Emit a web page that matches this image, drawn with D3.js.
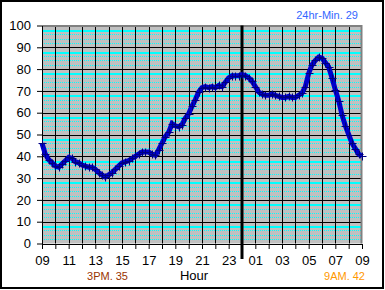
<!DOCTYPE html>
<html>
<head>
<meta charset="utf-8">
<script src="https://cdn.jsdelivr.net/npm/d3@7"></script>
<style>
  body { margin: 0; background: #fff; }
  svg { display: block; font-family: "Liberation Sans", Arial, sans-serif; }
</style>
</head>
<body>
<svg id="chart" width="385" height="290"></svg>
<script>
// readings every 15 minutes, starting 09:00
const values = [
  46, 41, 38.5, 37, 35.5, 35, 36.5, 38, 39.5, 39, 37.5, 37, 36, 35.5, 35, 35,
  34, 32.5, 31.5, 30.5, 31.5, 32.5, 34, 35.5, 37, 37.5, 38, 39, 40, 41, 42, 42,
  42, 41, 40.5, 43, 46, 49, 51, 55, 54, 53.5, 54.5, 57.5, 59.5, 63, 66, 69.5,
  71.5, 72, 71.5, 72, 71.5, 72.5, 72, 74, 76, 77, 77, 77, 77.5, 77, 76, 74.5,
  72, 69.5, 68.5, 68, 68, 68.5, 68, 67.5, 67, 67, 67.5, 67, 67, 68, 69, 72,
  78, 82, 84, 85.5, 85, 83, 81, 76, 70.5, 65.5, 59, 54, 50, 46, 43.5, 41, 40
];
const stepHours = 0.25;
const tickLabels = ["09", "11", "13", "15", "17", "19", "21", "23", "01", "03", "05", "07", "09"];
const yTicks = [0, 10, 20, 30, 40, 50, 60, 70, 80, 90, 100];
const midnightHour = 15;
const notes = { min: "24hr-Min. 29", left: "3PM. 35", right: "9AM. 42" };

const svg = d3.select("#chart");

// outer frame
svg.append("rect")
  .attr("x", 1).attr("y", 1).attr("width", 382).attr("height", 287)
  .attr("fill", "#fff").attr("stroke", "#000").attr("stroke-width", 2);

const x = d3.scaleLinear().domain([0, 24]).range([42, 362]);
const y = d3.scaleLinear().domain([0, 100]).range([243.5, 25.5]);
const px = v => Math.round(v) + 0.5;

// plot area
svg.append("rect")
  .attr("x", x(0)).attr("y", y(100))
  .attr("width", x(24) - x(0)).attr("height", y(0) - y(100))
  .attr("fill", "#c0c0c0");

// cyan stripes (the ones at x8 are solid, others dotted)
const stripes = d3.range(2, 100, 2).filter(v => v % 10 != 0);
svg.append("g").selectAll("line")
  .data(stripes)
  .enter()
  .append("line")
  .attr("x1", x(0)).attr("x2", x(24))
  .attr("y1", d => d % 10 == 8 ? Math.round(y(d)) + 1 : px(y(d)))
  .attr("y2", d => d % 10 == 8 ? Math.round(y(d)) + 1 : px(y(d)))
  .attr("stroke", "#00ffff")
  .attr("stroke-width", d => d % 10 == 8 ? 2 : 1)
  .attr("stroke-dasharray", d => d % 10 == 8 ? null : "1,1");

// black grid
svg.append("g").selectAll("line")
  .data(yTicks.slice(1, -1))
  .enter()
  .append("line")
  .attr("x1", x(0)).attr("x2", x(24))
  .attr("y1", d => px(y(d))).attr("y2", d => px(y(d)))
  .attr("stroke", "#000");

svg.append("g").selectAll("line")
  .data(d3.range(1, 24))
  .enter()
  .append("line")
  .attr("x1", d => px(x(d))).attr("x2", d => px(x(d)))
  .attr("y1", y(100)).attr("y2", y(0))
  .attr("stroke", "#000");

// plot border top / right
svg.append("path")
  .attr("d", `M${x(0)},${y(100) + 0.5}H${x(24) - 0.5}V${y(0)}`)
  .attr("fill", "none").attr("stroke", "#808080").attr("stroke-width", 2);

// axes
const yAxis = svg.append("g")
  .attr("transform", `translate(${px(x(0)) - 0.5},0)`)
  .call(d3.axisLeft(y).tickValues(yTicks).tickSize(5).tickSizeOuter(0).tickPadding(6));

const xAxis = svg.append("g")
  .attr("transform", `translate(0,${px(y(0)) - 0.5})`)
  .call(d3.axisBottom(x).tickValues(d3.range(0, 25))
    .tickSize(5).tickSizeOuter(0).tickPadding(7)
    .tickFormat(d => d % 2 == 0 ? tickLabels[d / 2] : ""));

[yAxis, xAxis].forEach(a => {
  a.selectAll("text").attr("font-size", 13).attr("fill", "#000")
    .attr("font-family", "Liberation Sans, Arial, sans-serif");
  a.selectAll("line").attr("stroke", "#000");
  a.select(".domain").attr("stroke", "#000");
});

// midnight marker
svg.append("line")
  .attr("x1", x(midnightHour)).attr("x2", x(midnightHour))
  .attr("y1", y(100)).attr("y2", 259)
  .attr("stroke", "#000").attr("stroke-width", 3);

// series
const line = d3.line()
  .x((d, i) => x(i * stepHours))
  .y(d => y(d));

svg.append("path")
  .datum(values)
  .attr("d", line)
  .attr("fill", "none")
  .attr("stroke", "#0000cc")
  .attr("stroke-width", 5);

svg.append("g").selectAll("path")
  .data(values)
  .enter()
  .append("path")
  .attr("transform", (d, i) => `translate(${Math.round(x(i * stepHours))},${Math.round(y(d))})`)
  .attr("d", "M-3.5,0.5H4.5M0.5,-3.5V4.5")
  .attr("stroke", "#000080")
  .attr("fill", "none");

// labels
svg.append("text")
  .attr("x", 194).attr("y", 280)
  .attr("text-anchor", "middle").attr("font-size", 13)
  .text("Hour");

svg.append("text")
  .attr("x", 358).attr("y", 18.5)
  .attr("text-anchor", "end").attr("font-size", 11).attr("fill", "#3366ff")
  .text(notes.min);

svg.append("text")
  .attr("x", 107.5).attr("y", 280)
  .attr("text-anchor", "middle").attr("font-size", 11).attr("fill", "#993300")
  .text(notes.left);

svg.append("text")
  .attr("x", 344.5).attr("y", 280)
  .attr("text-anchor", "middle").attr("font-size", 11).attr("fill", "#ff9900")
  .text(notes.right);
</script>
</body>
</html>
